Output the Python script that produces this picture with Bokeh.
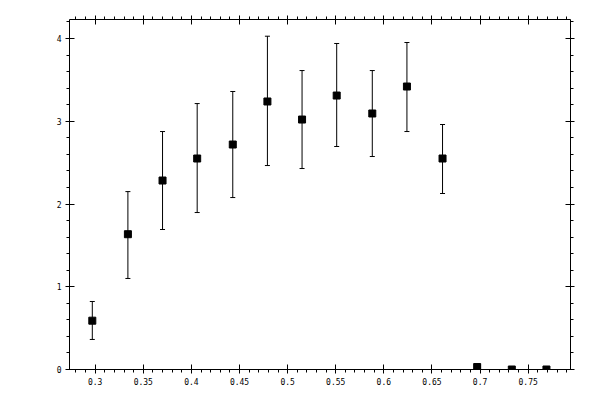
import numpy as np
from bokeh.plotting import figure
from bokeh.models import (ColumnDataSource, LinearAxis, SingleIntervalTicker,
                          CustomJSTickFormatter, Whisker, TeeHead, Range1d)
from bokeh.embed import file_html
from bokeh.resources import INLINE

x_vals = [0.297, 0.334, 0.370, 0.406, 0.443, 0.479, 0.515,
          0.551, 0.588, 0.624, 0.661, 0.697, 0.733, 0.769]
y_vals = [0.59, 1.635, 2.284, 2.55, 2.719, 3.239, 3.021,
          3.311, 3.094, 3.42, 2.55, 0.03, 0.0, 0.0]
y_upper = [0.822, 2.15, 2.876, 3.214, 3.36, 4.028, 3.613,
           3.94, 3.613, 3.952, 2.961, 0.03, 0.0, 0.0]
y_lower = [0.363, 1.10, 1.692, 1.897, 2.078, 2.465, 2.429,
           2.695, 2.574, 2.876, 2.127, 0.03, 0.0, 0.0]

FONT = "DejaVu Sans Mono"

p = figure(
    frame_width=501, frame_height=350,
    x_range=Range1d(0.2733, 0.794), y_range=Range1d(0, 4.23),
    x_axis_location=None, y_axis_location=None,
    toolbar_location=None, output_backend="svg",
    min_border_left=69, min_border_top=19,
    min_border_right=14, min_border_bottom=22,
)
p.grid.visible = False
p.outline_line_color = None
p.background_fill_color = "white"
p.border_fill_color = "white"

fmt = CustomJSTickFormatter(code="return String(Number(tick.toFixed(3)));")
blank = CustomJSTickFormatter(code="return '';")


def style(axis, labels=True):
    axis.axis_line_color = "black"
    axis.axis_line_width = 1
    axis.major_tick_line_color = "black"
    axis.minor_tick_line_color = "black"
    axis.major_tick_in = 5
    axis.major_tick_out = 4
    axis.minor_tick_in = 0
    axis.minor_tick_out = 3
    axis.major_label_text_font = FONT
    axis.major_label_text_color = "black"
    axis.major_label_text_font_size = "8px"
    axis.major_label_standoff = 4 if labels else 0


for side in ["below", "above"]:
    ax = LinearAxis(ticker=SingleIntervalTicker(interval=0.05, num_minor_ticks=5),
                    formatter=fmt if side == "below" else blank)
    style(ax, labels=(side == "below"))
    p.add_layout(ax, side)

for side in ["left", "right"]:
    ax = LinearAxis(ticker=SingleIntervalTicker(interval=1, num_minor_ticks=5))
    if side == "right":
        ax.formatter = blank
    style(ax, labels=(side == "left"))
    p.add_layout(ax, side)

# error bars only where there is a spread
has_err = np.array(y_upper) > np.array(y_lower)
err_src = ColumnDataSource(data=dict(
    x=np.array(x_vals)[has_err],
    upper=np.array(y_upper)[has_err],
    lower=np.array(y_lower)[has_err],
))
p.add_layout(Whisker(
    source=err_src, base="x", upper="upper", lower="lower", dimension="height",
    line_color="black", line_width=1,
    upper_head=TeeHead(size=5, line_color="black", line_width=1),
    lower_head=TeeHead(size=5, line_color="black", line_width=1),
))

src = ColumnDataSource(data=dict(x=x_vals, y=y_vals))
p.scatter("x", "y", source=src, marker="square", size=7,
          fill_color="black", line_color="black")

open("out.html", "w").write(file_html(p, INLINE))
